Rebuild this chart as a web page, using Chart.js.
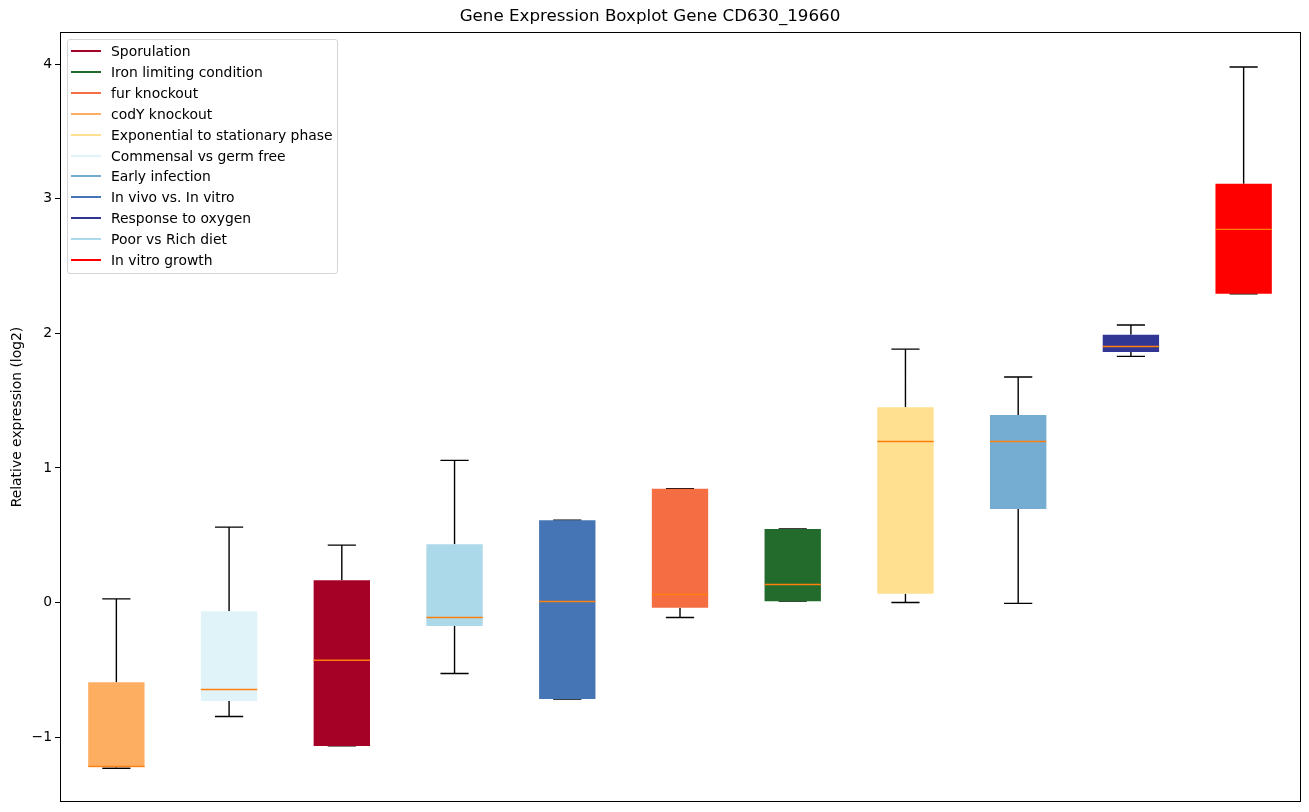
<!DOCTYPE html>
<html><head><meta charset="utf-8">
<script src="https://cdn.jsdelivr.net/npm/chart.js@4/dist/chart.umd.min.js"></script>
<style>
html,body{margin:0;padding:0;background:#fff;}
#wrap{position:relative;width:1309px;height:812px;}
#c{position:absolute;left:0;top:0;}
#legend{position:absolute;left:67px;top:39px;width:269px;height:233px;border:1px solid #d5d5d5;border-radius:3px;background:rgba(255,255,255,0.8);font-family:"DejaVu Sans";font-size:13.9px;color:#000;z-index:2;}
.row{position:absolute;left:0;height:20px;width:100%;}
.sw{position:absolute;left:3px;top:9px;width:30px;height:2px;}
.lbl{position:absolute;left:43px;top:0;line-height:20px;white-space:nowrap;}
</style></head>
<body><div id="wrap"><canvas id="c" width="1309" height="812"></canvas><div id="legend"></div></div>
<script>
// ---- data (box order, left to right) ----
const groups = ["codY knockout", "Commensal vs germ free", "Sporulation", "Poor vs Rich diet",
  "In vivo vs. In vitro", "fur knockout", "Iron limiting condition", "Exponential to stationary phase",
  "Early infection", "Response to oxygen", "In vitro growth"];
const whiskerLow  = [-1.232, -0.848, -1.066, -0.528, -0.717, -0.112, 0.010, 0.000, -0.007, 1.829, 2.294];
const q1          = [-1.224, -0.732, -1.066, -0.174, -0.717, -0.040, 0.010, 0.064,  0.694, 1.861, 2.294];
const medians     = [-1.218, -0.647, -0.429, -0.112,  0.007,  0.059, 0.134, 1.197,  1.197, 1.903, 2.773];
const q3          = [-0.593, -0.065,  0.166,  0.433,  0.612,  0.845, 0.547, 1.452,  1.393, 1.990, 3.112];
const whiskerHigh = [ 0.027,  0.560,  0.426,  1.056,  0.612,  0.845, 0.547, 1.883,  1.676, 2.062, 3.980];
const boxColors   = ["#fdae61", "#e0f3f8", "#a50026", "#abd9e9", "#4575b4", "#f46d43", "#236b2d",
  "#fee090", "#74add1", "#313695", "#ff0000"];
const legendOrder = ["Sporulation", "Iron limiting condition", "fur knockout", "codY knockout",
  "Exponential to stationary phase", "Commensal vs germ free", "Early infection", "In vivo vs. In vitro",
  "Response to oxygen", "Poor vs Rich diet", "In vitro growth"];
const yTicks = [-1, 0, 1, 2, 3, 4];
const titleText = "Gene Expression Boxplot Gene CD630_19660";
const yTitle = "Relative expression (log2)";

// ---- build ----
const FONT = "DejaVu Sans";
const positions = groups.map((_, i) => i + 1);
const CAP = 0.125, HALF = 0.25;
const whiskerData = [];
const medianData = [];
positions.forEach((x, i) => {
  whiskerData.push({x, y: whiskerLow[i]}, {x, y: q1[i]}, {x, y: null});
  whiskerData.push({x, y: q3[i]}, {x, y: whiskerHigh[i]}, {x, y: null});
  whiskerData.push({x: x - CAP, y: whiskerLow[i]}, {x: x + CAP, y: whiskerLow[i]}, {x, y: null});
  whiskerData.push({x: x - CAP, y: whiskerHigh[i]}, {x: x + CAP, y: whiskerHigh[i]}, {x, y: null});
  medianData.push({x: x - HALF, y: medians[i]}, {x: x + HALF, y: medians[i]}, {x, y: null});
});

const framePlugin = {
  id: 'frame',
  afterDraw(chart) {
    const {ctx, chartArea: a} = chart;
    ctx.save();
    ctx.strokeStyle = '#000';
    ctx.lineWidth = 1;
    ctx.strokeRect(Math.round(a.left) + 0.5, Math.round(a.top) + 0.5,
      Math.round(a.right) - Math.round(a.left), Math.round(a.bottom) - Math.round(a.top) - 1);
    ctx.restore();
  }
};

new Chart(document.getElementById('c'), {
  type: 'bar',
  data: {
    datasets: [
      {type: 'line', label: 'medians', data: medianData, borderColor: '#ff7f0e', borderWidth: 1.4,
        pointRadius: 0, spanGaps: false, order: 0, tension: 0},
      {type: 'bar', label: 'boxes', data: positions.map((x, i) => ({x, y: [q1[i], q3[i]]})),
        backgroundColor: boxColors, borderWidth: 0, barPercentage: 0.5, categoryPercentage: 1.0, order: 1},
      {type: 'line', label: 'whiskers', data: whiskerData, borderColor: '#000', borderWidth: 1.4,
        pointRadius: 0, spanGaps: false, order: 2, tension: 0}
    ]
  },
  options: {
    responsive: false,
    animation: false,
    layout: {padding: {left: 0, right: 9, top: 0, bottom: 10}},
    plugins: {
      legend: {display: false},
      tooltip: {enabled: false},
      title: {display: true, text: titleText, color: '#000',
        font: {family: FONT, size: 16.7, weight: 'normal'}, padding: {top: 7, bottom: 5}}
    },
    scales: {
      x: {type: 'linear', min: 0.5, max: 11.5, display: false, offset: false,
        afterBuildTicks: s => { s.ticks = positions.map(v => ({value: v})); }},
      y: {type: 'linear', min: -1.483, max: 4.24,
        afterBuildTicks: s => { s.ticks = yTicks.map(v => ({value: v})); },
        afterFit: s => { s.width = 60; s.paddingTop = 0; s.paddingBottom = 0; },
        border: {display: false},
        grid: {drawOnChartArea: false, drawTicks: true, tickLength: 5, color: '#000', lineWidth: 1},
        ticks: {color: '#000', font: {family: FONT, size: 13.9}, padding: 3,
          callback: v => v < 0 ? '\u2212' + Math.abs(v) : String(v)},
        title: {display: true, text: yTitle, color: '#000', font: {family: FONT, size: 13.9},
          padding: {top: 9, bottom: 0}}
      }
    }
  },
  plugins: [framePlugin]
});

// ---- legend ----
const leg = document.getElementById('legend');
legendOrder.forEach((name, k) => {
  const row = document.createElement('div');
  row.className = 'row';
  row.style.top = (1 + 20.9 * k) + 'px';
  const sw = document.createElement('div');
  sw.className = 'sw';
  sw.style.background = boxColors[groups.indexOf(name)];
  const lb = document.createElement('div');
  lb.className = 'lbl';
  lb.textContent = name;
  row.appendChild(sw); row.appendChild(lb);
  leg.appendChild(row);
});
</script>
</body></html>
